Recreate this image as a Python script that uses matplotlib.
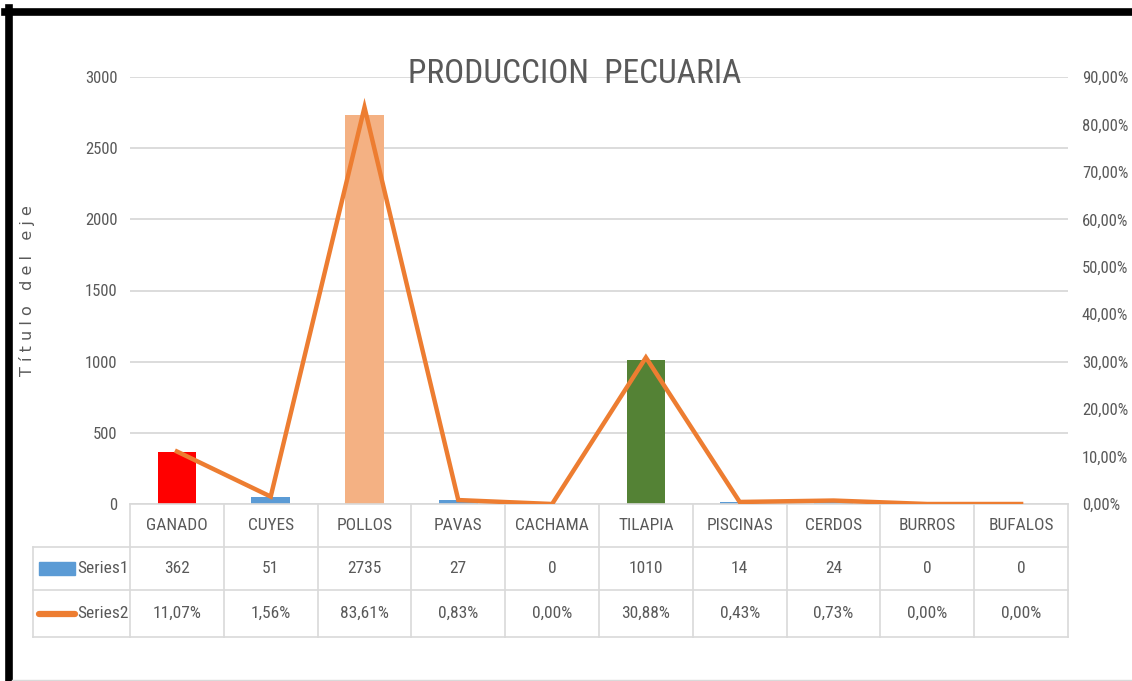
import matplotlib
matplotlib.use("Agg")
import matplotlib.pyplot as plt
from matplotlib.patches import Rectangle
from matplotlib.lines import Line2D
import numpy as np

categories = ['GANADO', 'CUYES', 'POLLOS', 'PAVAS', 'CACHAMA', 'TILAPIA',
              'PISCINAS', 'CERDOS', 'BURROS', 'BUFALOS']
series1 = [362, 51, 2735, 27, 0, 1010, 14, 24, 0, 0]
series2 = [11.07, 1.56, 83.61, 0.83, 0.00, 30.88, 0.43, 0.73, 0.00, 0.00]
series_names = ['Series1', 'Series2']

BLUE = '#5B9BD5'
ORANGE = '#ED7D31'
bar_colors = ['#FF0000', BLUE, '#F4B183', BLUE, BLUE, '#548235', BLUE, BLUE, BLUE, BLUE]
GRAY_TXT = '#595959'
GRID = '#D9D9D9'

plt.rcParams['font.family'] = ['Roboto Condensed', 'Liberation Sans Narrow', 'Roboto', 'DejaVu Sans']

W, H = 1132, 681
fig = plt.figure(figsize=(W / 100, H / 100), dpi=100)
ax = fig.add_axes([130 / W, 1 - 504 / H, 938 / W, 427 / H])
ax2 = ax.twinx()

x = np.arange(len(categories))
ax.bar(x, series1, width=0.41, color=bar_colors, zorder=2)
ax.set_xlim(-0.5, len(categories) - 0.5)
ax.set_ylim(0, 3000)
ax.set_yticks(np.arange(0, 3001, 500))
ax.grid(axis='y', color=GRID, linewidth=1.3, zorder=0)
ax.set_axisbelow(True)
ax.set_xticks([])
for s in ax.spines.values():
    s.set_visible(False)
ax.tick_params(axis='y', length=0, pad=9, labelsize=12, labelcolor=GRAY_TXT)
ax.set_ylabel('T í t u l o   d e l   e j e', fontsize=11.5, color=GRAY_TXT,
              family='DejaVu Sans', labelpad=36)

ax2.plot(x, np.array(series2) / 100, color=ORANGE, linewidth=3.2,
         solid_joinstyle='miter', zorder=3)
ax2.set_ylim(0, 0.9)
ax2.set_yticks(np.arange(0, 0.91, 0.1))
ax2.set_yticklabels([f'{v * 100:.2f}%'.replace('.', ',') for v in np.arange(0, 0.91, 0.1)])
ax2.tick_params(axis='y', length=0, pad=10, labelsize=12, labelcolor=GRAY_TXT)
for s in ax2.spines.values():
    s.set_visible(False)

fig.text(575 / W, 1 - 74 / H, 'PRODUCCION  PECUARIA', fontsize=24, color=GRAY_TXT,
         ha='center', va='center')

# data table under the axis
tr = ax.get_xaxis_transform()
rows_y = [0, -43 / 427, -86 / 427, -133 / 427]
left = -0.5 - 97 / 93.8
right = len(categories) - 0.5
lw = 1.2
ax.add_line(Line2D([-0.5, right], [rows_y[0]] * 2, transform=tr, color=GRID, lw=lw, clip_on=False))
for yy in rows_y[1:]:
    ax.add_line(Line2D([left, right], [yy] * 2, transform=tr, color=GRID, lw=lw, clip_on=False))
for xx in np.arange(-0.5, right + 0.01, 1.0):
    ax.add_line(Line2D([xx, xx], [rows_y[0], rows_y[3]], transform=tr, color=GRID, lw=lw, clip_on=False))
ax.add_line(Line2D([left, left], [rows_y[1], rows_y[3]], transform=tr, color=GRID, lw=lw, clip_on=False))

def mid(a, b):
    return (a + b) / 2

fs = 12.5
for i, c in enumerate(categories):
    ax.text(i, mid(rows_y[0], rows_y[1]), c, transform=tr, ha='center', va='center',
            fontsize=fs, color=GRAY_TXT)
    ax.text(i, mid(rows_y[1], rows_y[2]), str(series1[i]), transform=tr, ha='center',
            va='center', fontsize=fs, color=GRAY_TXT)
    ax.text(i, mid(rows_y[2], rows_y[3]), f'{series2[i]:.2f}%'.replace('.', ','),
            transform=tr, ha='center', va='center', fontsize=fs, color=GRAY_TXT)

# legend keys in the row header
ax.add_patch(Rectangle((left + 0.06, mid(rows_y[1], rows_y[2]) - 6 / 427), 0.39, 13 / 427,
                       transform=tr, color=BLUE, clip_on=False))
ax.add_line(Line2D([left + 0.06, left + 0.45], [mid(rows_y[2], rows_y[3])] * 2, transform=tr,
                   color=ORANGE, lw=4.5, solid_capstyle='round', clip_on=False))
for r, name in enumerate(series_names):
    ax.text(left + 0.47, mid(rows_y[r + 1], rows_y[r + 2]), name, transform=tr,
            ha='left', va='center', fontsize=fs, color=GRAY_TXT)

# frame from the screenshot
fig.add_artist(Line2D([5 / W, 1], [1 - 11.5 / H] * 2, transform=fig.transFigure, color='black', lw=5.5))
fig.add_artist(Line2D([8.5 / W] * 2, [0, 1 - 8 / H], transform=fig.transFigure, color='black', lw=5.5))
fig.add_artist(Line2D([12 / W, 1], [1 - 680 / H] * 2, transform=fig.transFigure, color=GRID, lw=1))

fig.savefig('out.png', dpi=100)
